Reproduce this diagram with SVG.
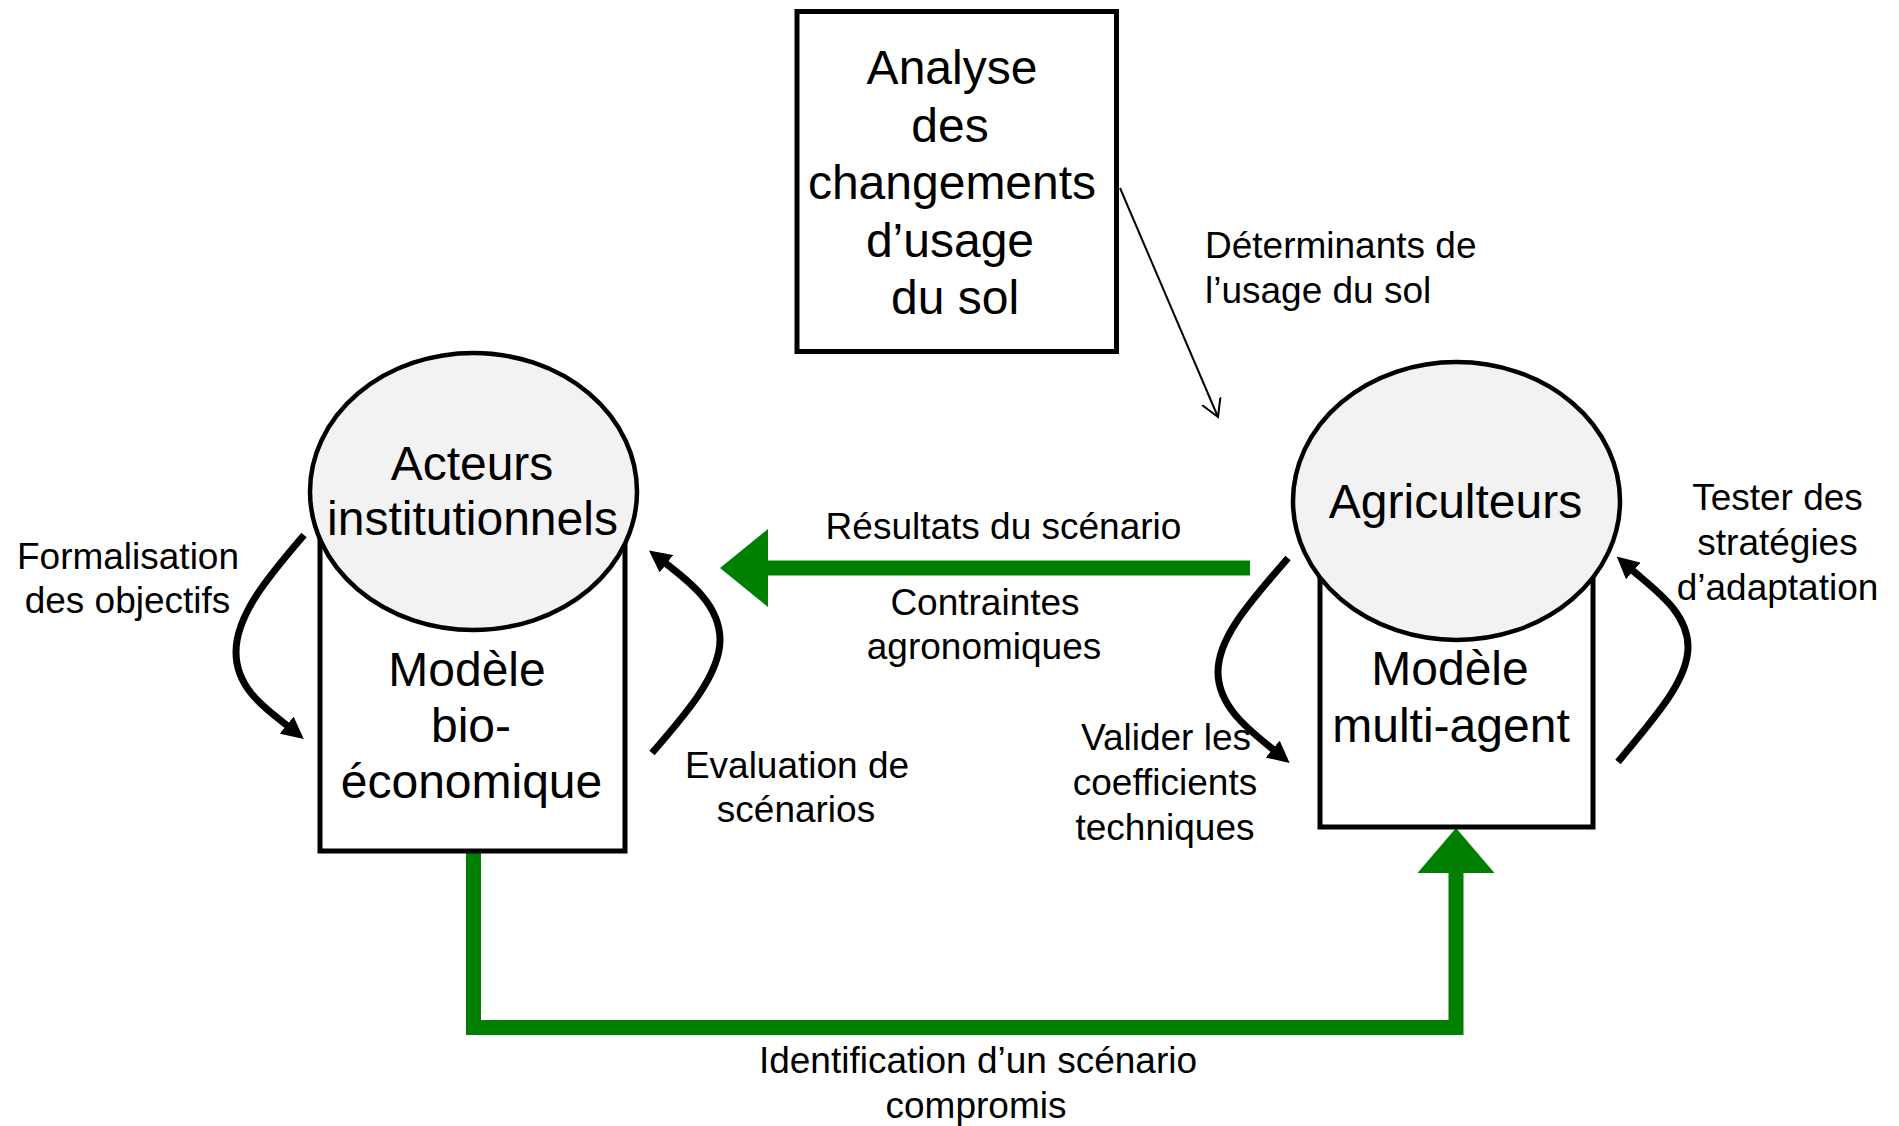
<svg xmlns="http://www.w3.org/2000/svg" width="1899" height="1126" viewBox="0 0 1899 1126">
<defs>
<style>
text{font-family:"Liberation Sans",Arial,sans-serif;fill:#000}
.big{font-size:48px;text-anchor:middle}
.lbl{font-size:37px;text-anchor:middle}
.box{fill:#fff;stroke:#000;stroke-width:5}
.ell{fill:#f2f2f2;stroke:#000;stroke-width:4.5}
.loop{fill:none;stroke:#000;stroke-width:7;marker-end:url(#head)}
.green{fill:none;stroke:#008000;stroke-width:15}
.ghead{fill:#008000}
</style>
<marker id="head" markerUnits="userSpaceOnUse" viewBox="0 0 22 22" markerWidth="22" markerHeight="22" refX="3" refY="11" orient="auto">
<path d="M0,0 L22,11 L0,22 z" fill="#000"/>
</marker>
<marker id="open" markerUnits="userSpaceOnUse" viewBox="0 0 20 24" markerWidth="20" markerHeight="24" refX="17.3" refY="12" orient="auto">
<path d="M0,2 L17.3,12 L0,22" fill="none" stroke="#000" stroke-width="2"/>
</marker>
</defs>
<rect width="1899" height="1126" fill="#fff"/>

<g id="connectors">
<path class="green" d="M473.5,852 V1027.5 H1456 V870"/>
<polygon class="ghead" points="1456,828 1417.5,873 1494.5,873"/>
<path class="green" d="M1250,568 H765"/>
<polygon class="ghead" points="720,568 768,529 768,607"/>
<path d="M1120,188 L1218,417" fill="none" stroke="#000" stroke-width="2" marker-end="url(#open)"/>
<path class="loop" d="M304,535 C268,577 236,615 236,652 C236,690 268,710 289,727"/>
<path class="loop" d="M652,753 C685,715 720,675 720,640 C720,605 690,582 664,562"/>
<path class="loop" d="M1288,558 C1255,597 1218,635 1218,672 C1218,708 1252,732 1275,751"/>
<path class="loop" d="M1618,762 C1652,720 1688,682 1688,647 C1688,612 1655,590 1631,569"/>
</g>

<g id="node-analyse">
<rect class="box" x="797" y="11.5" width="319.5" height="340"/>
<text class="big" x="952" y="84">Analyse</text>
<text class="big" x="950" y="141.5">des</text>
<text class="big" x="952" y="199">changements</text>
<text class="big" x="950" y="256.5">d’usage</text>
<text class="big" x="955" y="314">du sol</text>
</g>

<g id="node-bioeco">
<rect class="box" x="320" y="490" width="305" height="361"/>
<ellipse class="ell" cx="473.5" cy="491.5" rx="163.5" ry="138.5"/>
<text class="big" x="472" y="480">Acteurs</text>
<text class="big" x="472.5" y="535">institutionnels</text>
<text class="big" x="467" y="686">Modèle</text>
<text class="big" x="471" y="742">bio-</text>
<text class="big" x="471.5" y="798">économique</text>
</g>

<g id="node-multiagent">
<rect class="box" x="1320" y="500" width="273" height="327"/>
<ellipse class="ell" cx="1456.5" cy="501" rx="163.5" ry="139"/>
<text class="big" x="1455.5" y="518">Agriculteurs</text>
<text class="big" x="1450" y="685">Modèle</text>
<text class="big" x="1451" y="742">multi-agent</text>
</g>

<g id="labels">
<text class="lbl" x="1003.5" y="539">Résultats du scénario</text>
<text class="lbl" x="985" y="615">Contraintes</text>
<text class="lbl" x="984" y="659">agronomiques</text>
<text class="lbl" x="128" y="569">Formalisation</text>
<text class="lbl" x="127.5" y="613">des objectifs</text>
<text class="lbl" x="797" y="778">Evaluation de</text>
<text class="lbl" x="796" y="822">scénarios</text>
<text class="lbl" x="1166" y="750">Valider les</text>
<text class="lbl" x="1165" y="795">coefficients</text>
<text class="lbl" x="1165" y="840">techniques</text>
<text class="lbl" x="1777.5" y="510">Tester des</text>
<text class="lbl" x="1777.5" y="555">stratégies</text>
<text class="lbl" x="1777.5" y="600">d’adaptation</text>
<text x="1205" y="258" font-size="37">Déterminants de</text>
<text x="1205" y="303" font-size="37">l’usage du sol</text>
<text class="lbl" x="978" y="1073">Identification d’un scénario</text>
<text class="lbl" x="976" y="1118">compromis</text>
</g>
</svg>
